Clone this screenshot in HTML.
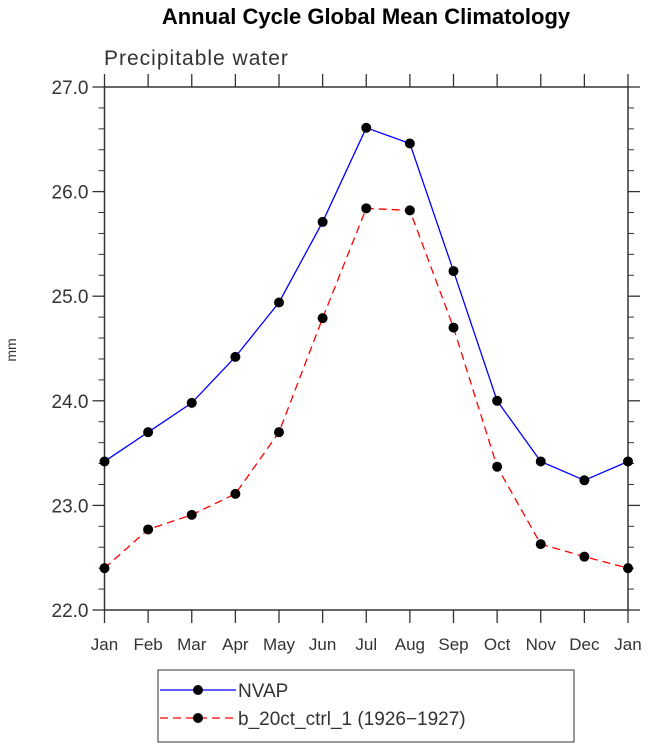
<!DOCTYPE html>
<html><head><meta charset="utf-8"><style>
body{margin:0;background:#fff;}
svg text{font-family:"Liberation Sans","DejaVu Sans",sans-serif;}
</style></head><body>
<svg id="chart" width="648" height="746" xmlns="http://www.w3.org/2000/svg">
<text x="366" y="24" font-size="22" font-weight="bold" text-anchor="middle">Annual Cycle Global Mean Climatology</text>
<text x="104" y="65" font-size="21" fill="#333" font-weight="300" letter-spacing="1">Precipitable water</text>
<text x="16" y="350" font-size="14" fill="#333" text-anchor="middle" transform="rotate(-90 16 350)">mm</text>
<g id="axes"></g>
<g id="series"></g>
<g>
<rect x="158" y="670" width="416" height="72" fill="#fff" stroke="#333" stroke-width="1"/>
<g>
<line x1="160" y1="690" x2="236" y2="690" stroke="#0000ff" stroke-width="1.2"/>
<circle cx="198" cy="690" r="5" fill="#000"/>
<text x="238" y="697" font-size="19" fill="#333">NVAP</text></g>
<g>
<line x1="160" y1="718" x2="236" y2="718" stroke="#ff0000" stroke-width="1.2" stroke-dasharray="8,5"/>
<circle cx="198" cy="718" r="5" fill="#000"/>
<text x="238" y="725" font-size="19" fill="#333">b_20ct_ctrl_1 (1926−1927)</text></g>
</g>
</svg>
<script>
const months=["Jan","Feb","Mar","Apr","May","Jun","Jul","Aug","Sep","Oct","Nov","Dec","Jan"];
const nvap=[23.42,23.70,23.98,24.42,24.94,25.71,26.61,26.46,25.24,24.00,23.42,23.24,23.42];
const ctrl=[22.40,22.77,22.91,23.11,23.70,24.79,25.84,25.82,24.70,23.37,22.63,22.51,22.40];
const yTicks=[22.0,23.0,24.0,25.0,26.0,27.0];
const NS="http://www.w3.org/2000/svg";
const L=104.5,R=628,T=87,B=610,yMin=22,yMax=27;
const xs=i=>L+(R-L)*i/(months.length-1);
const ys=v=>B-(v-yMin)/(yMax-yMin)*(B-T);
function mk(tag,attrs,parent){const e=document.createElementNS(NS,tag);for(const k in attrs)e.setAttribute(k,attrs[k]);parent.appendChild(e);return e;}
const ax=document.getElementById('axes');
const frame=mk('rect',{x:L,y:T,width:R-L,height:B-T,fill:'none',stroke:'#333','stroke-width':1.5},ax);


months.forEach((m,i)=>{const x=xs(i);
mk('line',{x1:x,y1:B,x2:x,y2:B+13,stroke:'#333','stroke-width':1.3},ax);
mk('line',{x1:x,y1:T,x2:x,y2:T-13,stroke:'#333','stroke-width':1.3},ax);
const t=mk('text',{x:x,y:B+40,'font-size':17,fill:'#333','text-anchor':'middle'},ax);t.textContent=m;

});
yTicks.forEach((v,i)=>{const y=ys(v);
mk('line',{x1:L-12,y1:y,x2:L,y2:y,stroke:'#333','stroke-width':1.3},ax);
mk('line',{x1:R,y1:y,x2:R+12,y2:y,stroke:'#333','stroke-width':1.3},ax);
const t=mk('text',{x:L-16,y:y+7,'font-size':19,fill:'#333','text-anchor':'end'},ax);t.textContent=v.toFixed(1);


if(i<yTicks.length-1){for(let k=1;k<5;k++){const yy=ys(v+k*0.2);
mk('line',{x1:L-6,y1:yy,x2:L,y2:yy,stroke:'#333','stroke-width':1},ax);
mk('line',{x1:R,y1:yy,x2:R+6,y2:yy,stroke:'#333','stroke-width':1},ax);}}});
const sg=document.getElementById('series');
function draw(vals,color,dash,name){
const pts=vals.map((v,i)=>xs(i)+','+ys(v)).join(' ');
const pl=mk('polyline',{points:pts,fill:'none',stroke:color,'stroke-width':1.3},sg);
if(dash)pl.setAttribute('stroke-dasharray',dash);


vals.forEach((v,i)=>{const c=mk('circle',{cx:xs(i),cy:ys(v),r:5,fill:'#000'},sg);

});}
draw(ctrl,'#ff0000','8,5','ctrl');
draw(nvap,'#0000ff',null,'nvap');
</script>
</body></html>
